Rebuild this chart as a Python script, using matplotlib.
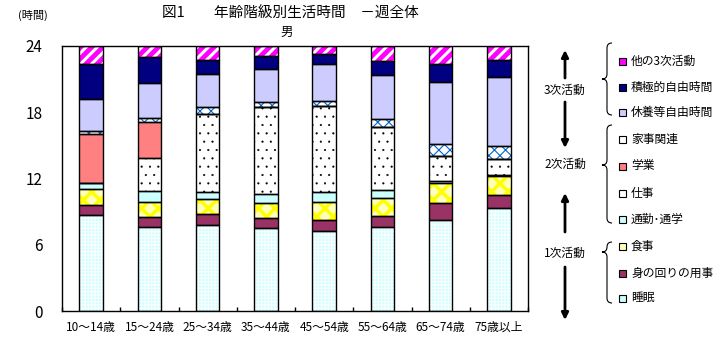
import numpy as np
import matplotlib
matplotlib.use('Agg')
import matplotlib.pyplot as plt
from matplotlib.patches import Rectangle, PathPatch
from matplotlib.path import Path

plt.rcParams['font.family'] = ['Noto Sans CJK JP', 'DejaVu Sans']

categories = ['10～14歳', '15～24歳', '25～34歳', '35～44歳', '45～54歳',
              '55～64歳', '65～74歳', '75歳以上']
sleep = [8.67, 7.64, 7.76, 7.49, 7.22, 7.58, 8.22, 9.30]
personal_care = [0.93, 0.85, 1.03, 0.91, 1.00, 1.00, 1.54, 1.21]
meals = [1.42, 1.36, 1.33, 1.36, 1.63, 1.63, 1.81, 1.75]
commute = [0.55, 0.99, 0.63, 0.81, 0.90, 0.72, 0.18, 0.10]
work = [0.00, 3.02, 7.07, 7.88, 7.79, 5.74, 2.29, 1.41]
school = [4.43, 3.23, 0.00, 0.00, 0.00, 0.00, 0.00, 0.00]
housework = [0.30, 0.36, 0.63, 0.45, 0.46, 0.69, 1.06, 1.15]
rest = [2.87, 3.17, 2.99, 2.99, 3.35, 3.99, 5.62, 6.30]
active = [3.18, 2.36, 1.30, 1.21, 0.90, 1.29, 1.65, 1.52]
other = [1.65, 1.02, 1.26, 0.90, 0.75, 1.36, 1.63, 1.26]

series_names = ['睡眠', '身の回りの用事', '食事', '通勤･通学', '仕事', '学業',
                '家事関連', '休養等自由時間', '積極的自由時間', '他の3次活動']
series_values = [sleep, personal_care, meals, commute, work, school,
                 housework, rest, active, other]
yticks = [0, 6, 12, 18, 24]

# style: (face, hatch, hatch color, hatch linewidth)
styles = [
    ('#CCFFFF', '+++++', 'white', 0.8),
    ('#993366', None, None, 0),
    ('#FFFFBB', 'xx', '#FFFF00', 2.5),
    ('#CCFFFF', None, None, 0),
    ('white', '..', 'black', 0.3),
    ('#FF8080', None, None, 0),
    ('white', 'xxx', '#0066CC', 0.8),
    ('#CCCCFF', None, None, 0),
    ('#000080', None, None, 0),
    ('#FF00FF', '///', 'white', 2.2),
]

W, H = 716, 340
fig = plt.figure(figsize=(W / 100, H / 100), dpi=100)
ax = fig.add_axes([62 / W, 1 - 311 / H, (528 - 62) / W, (311 - 46) / H])

x = np.arange(len(categories))
bottom = np.zeros(len(categories))
bw = 0.4
for vals, (face, hatch, hcol, hlw) in zip(series_values, styles):
    vals = np.array(vals)
    if hatch:
        with plt.rc_context({'hatch.linewidth': hlw}):
            bars = ax.bar(x, vals, bw, bottom=bottom, color=face, edgecolor=hcol,
                          hatch=hatch, linewidth=0, zorder=2)
        for b in bars:
            if hasattr(b, 'set_hatch_linewidth'):
                b.set_hatch_linewidth(hlw)
    else:
        ax.bar(x, vals, bw, bottom=bottom, color=face, linewidth=0, zorder=2)
    ax.bar(x, vals, bw, bottom=bottom, fill=False, edgecolor='black',
           linewidth=1.0, zorder=3)
    bottom = bottom + vals

ax.set_xlim(-0.5, len(categories) - 0.5)
ax.set_ylim(0, 24)
ax.set_yticks(yticks)
ax.set_yticklabels([str(t) for t in yticks], fontsize=11)
ax.tick_params(axis='y', length=0, pad=14)
ax.set_xticks(x)
ax.set_xticklabels(categories, fontsize=8.5)
ax.tick_params(axis='x', length=0, pad=7)
ax.set_xticks(np.arange(len(categories) + 1) - 0.5, minor=True)
ax.tick_params(axis='x', which='minor', direction='in', length=3, width=1)
for s in ax.spines.values():
    s.set_linewidth(1.0)
    s.set_color('black')

def fx(px):
    return px / W

def fy(py):
    return 1 - py / H

fig.text(fx(18), fy(15), '(時間)', fontsize=8, va='center', ha='left')
fig.text(fx(162), fy(14), '図1　　年齢階級別生活時間　－週全体', fontsize=10.5,
         va='center', ha='left')
fig.text(fx(287), fy(32), '男', fontsize=9, va='center', ha='center')

# legend items
legend_y = [298, 273, 246, 219, 193, 166, 139, 112, 87, 61]
for name, (face, hatch, hcol, hlw), ly in zip(series_names, styles, legend_y):
    r = Rectangle((fx(619), fy(ly + 4)), 7 / W, 7 / H, transform=fig.transFigure,
                  facecolor=face, edgecolor='black', linewidth=0.8)
    fig.add_artist(r)
    fig.text(fx(631), fy(ly), name, fontsize=8.5, va='center', ha='left')

# braces
def brace(xv, y1, ym, y2):
    c = 5
    verts = [(xv + c, y1), (xv, y1), (xv, y1 + c),
             (xv, ym - c), (xv, ym), (xv - c, ym),
             (xv, ym), (xv, ym + c),
             (xv, y2 - c), (xv, y2), (xv + c, y2)]
    codes = [Path.MOVETO, Path.CURVE3, Path.CURVE3,
             Path.LINETO, Path.CURVE3, Path.CURVE3,
             Path.CURVE3, Path.CURVE3,
             Path.LINETO, Path.CURVE3, Path.CURVE3]
    verts = [(fx(a), fy(b)) for a, b in verts]
    p = PathPatch(Path(verts, codes), transform=fig.transFigure, fill=False,
                  edgecolor='black', linewidth=0.8)
    fig.add_artist(p)

brace(607, 43, 79, 115)
brace(607, 125, 165, 223)
brace(607, 242, 252, 303)

# group labels
fig.text(fx(565), fy(90), '3次活動', fontsize=8.5, va='center', ha='center')
fig.text(fx(565), fy(164), '2次活動', fontsize=8.5, va='center', ha='center')
fig.text(fx(565), fy(253), '1次活動', fontsize=8.5, va='center', ha='center')

def arrow(xc, tail, tip):
    ax.annotate('', xy=(xc, H - tip), xytext=(xc, H - tail),
                xycoords='figure pixels', textcoords='figure pixels',
                arrowprops=dict(arrowstyle='-|>', lw=2, color='black',
                                mutation_scale=10, shrinkA=0, shrinkB=0),
                annotation_clip=False)

arrow(565, 78, 50)
arrow(565, 102, 148)
arrow(565, 232, 193)
arrow(565, 267, 320)

fig.savefig('out.png', dpi=100)
